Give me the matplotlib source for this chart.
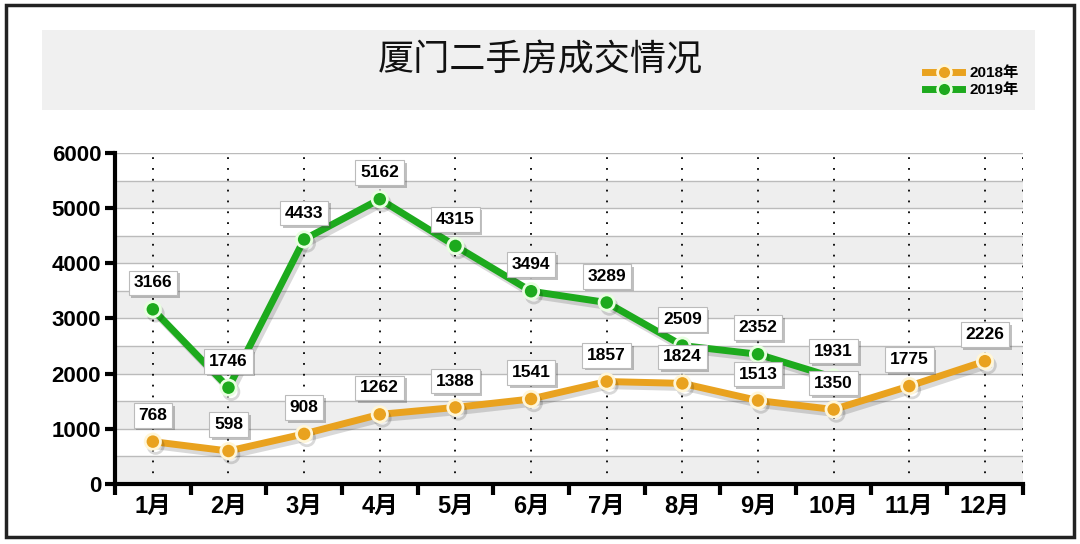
import matplotlib.pyplot as plt
import matplotlib.patches as mpatches
import matplotlib.patheffects as pe
from matplotlib.lines import Line2D
import numpy as np

plt.rcParams['font.family'] = ['Liberation Sans', 'Noto Sans CJK SC', 'DejaVu Sans']

# データ
months = ['1月', '2月', '3月', '4月', '5月', '6月', '7月', '8月', '9月', '10月', '11月', '12月']
y2018 = [768, 598, 908, 1262, 1388, 1541, 1857, 1824, 1513, 1350, 1775, 2226]
y2019 = [3166, 1746, 4433, 5162, 4315, 3494, 3289, 2509, 2352, 1931]
yticks = [0, 1000, 2000, 3000, 4000, 5000, 6000]

c2018 = '#E9A21F'
c2019 = '#1DAA1D'

fig = plt.figure(figsize=(10.8, 5.44), dpi=100)

# 外枠とタイトル帯
fig.patches.append(mpatches.Rectangle((0.006, 0.012), 0.988, 0.978, transform=fig.transFigure,
                                      fill=False, edgecolor='#222222', linewidth=2.5))
fig.patches.append(mpatches.Rectangle((0.039, 0.798), 0.919, 0.147, transform=fig.transFigure,
                                      facecolor='#F0F0F0', edgecolor='none'))
fig.text(0.5, 0.888, '厦门二手房成交情况', ha='center', va='center', fontsize=26, color='#111111',
         family=['Noto Sans CJK SC'])

ax = fig.add_axes([0.1065, 0.1103, 0.8405, 0.6085])
x = np.arange(len(months))
ax.set_xlim(-0.5, len(months) - 0.5)
ax.set_ylim(0, 6000)

# 背景の縞
for lo in range(0, 6000, 1000):
    ax.axhspan(lo, lo + 500, color='#EEEEEE', zorder=0, lw=0)
for v in range(500, 6001, 500):
    ax.axhline(v, color='#BBBBBB', lw=1, zorder=1)
for xi in x:
    ax.axvline(xi, color='black', lw=1.3, ls=(0, (1, 5)), zorder=1)
ax.axvline(len(months) - 0.5, color='black', lw=1.3, ls=(0, (1, 5)), zorder=1)

shadow = [pe.SimpleLineShadow(offset=(2, -3), alpha=0.15), pe.Normal()]
ax.plot(x, y2018, color=c2018, lw=5, marker='o', ms=11, mfc=c2018, mec='#FFF6D8', mew=2,
        zorder=3, path_effects=shadow)
ax.plot(x[:len(y2019)], y2019, color=c2019, lw=5, marker='o', ms=11, mfc=c2019, mec='#E8FFE0', mew=2,
        zorder=4, path_effects=shadow)

box = dict(boxstyle='square,pad=0.28', fc='white', ec='#BBBBBB', lw=0.8)
for xi, v in zip(x, y2018):
    t = ax.annotate(str(v), (xi, v), xytext=(0, 19), textcoords='offset points', ha='center', va='center',
                    fontsize=12.5, fontweight='bold', bbox=box, zorder=6)
    t.get_bbox_patch().set_path_effects([pe.SimplePatchShadow(offset=(2, -2), alpha=0.35), pe.Normal()])
for xi, v in zip(x, y2019):
    t = ax.annotate(str(v), (xi, v), xytext=(0, 19), textcoords='offset points', ha='center', va='center',
                    fontsize=12.5, fontweight='bold', bbox=box, zorder=6)
    t.get_bbox_patch().set_path_effects([pe.SimplePatchShadow(offset=(2, -2), alpha=0.35), pe.Normal()])

# 軸
for s in ['top', 'right']:
    ax.spines[s].set_visible(False)
ax.spines['left'].set_linewidth(3)
ax.spines['bottom'].set_linewidth(3)
ax.set_yticks(yticks)
ax.set_yticklabels([str(v) for v in yticks], fontsize=16, fontweight='bold')
ax.tick_params(axis='y', length=7, width=3, pad=3)
ax.set_xticks(np.arange(len(months) + 1) - 0.5)
ax.set_xticklabels([])
ax.set_xticks(x, minor=True)
ax.set_xticklabels(months, minor=True, fontsize=17, fontweight='bold')
ax.tick_params(axis='x', which='major', length=8, width=3)
ax.tick_params(axis='x', which='minor', length=0, pad=8)

handles = [Line2D([], [], color=c2018, lw=5, marker='o', ms=10, mfc=c2018, mec='#FFF6D8', mew=2),
           Line2D([], [], color=c2019, lw=5, marker='o', ms=10, mfc=c2019, mec='#E8FFE0', mew=2)]
fig.legend(handles, ['2018年', '2019年'], loc='center', bbox_to_anchor=(0.9, 0.85), frameon=False,
           prop={'size': 11, 'weight': 'bold'}, handlelength=2.4, labelspacing=0.2, handletextpad=0.5)

fig.savefig('out.png', dpi=100)
